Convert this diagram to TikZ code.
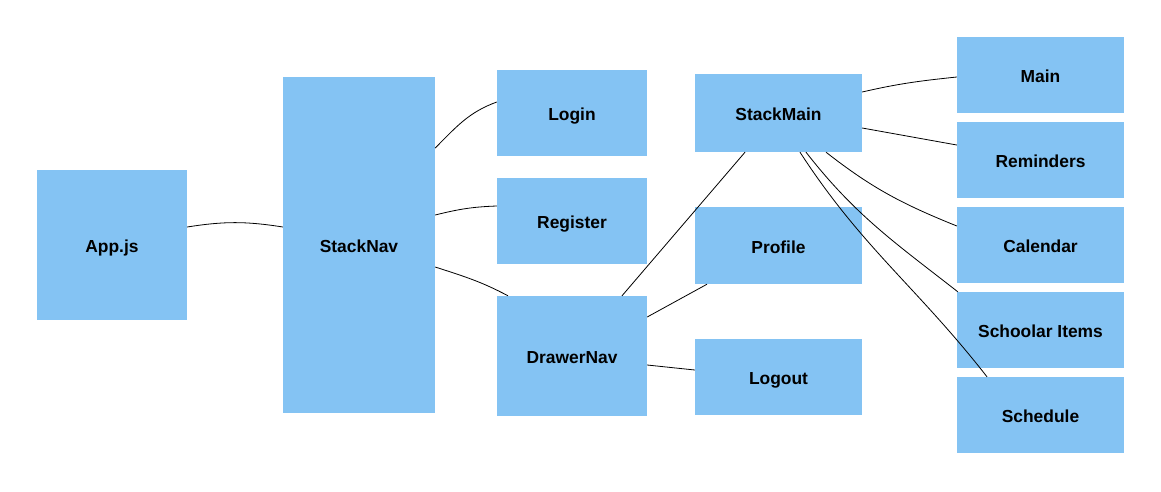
\documentclass[tikz,border=0pt]{standalone}
\usepackage{fontspec}
\setmainfont{Liberation Sans}
\definecolor{boxblue}{RGB}{132,195,243}
\begin{document}
\begin{tikzpicture}[x=1pt,y=-1pt,
  box/.style={fill=boxblue,draw=none,inner sep=0pt,text height=15pt,text depth=0pt,font=\fontsize{17.4}{20}\selectfont\bfseries},
  link/.style={draw=black,line width=0.8pt}]
\useasboundingbox (0,0) rectangle (1161,491);
\node[box,minimum width=150,minimum height=150] (app) at (112,245) {App.js};
\node[box,minimum width=152,minimum height=336] (stacknav) at (359,245) {StackNav};
\node[box,minimum width=150,minimum height=86] (login) at (572,113) {Login};
\node[box,minimum width=150,minimum height=86] (register) at (572,221) {Register};
\node[box,minimum width=150,minimum height=120] (drawer) at (572,356) {DrawerNav};
\node[box,minimum width=167,minimum height=78] (stackmain) at (778.5,113) {StackMain};
\node[box,minimum width=167,minimum height=77] (profile) at (778.5,245.5) {Profile};
\node[box,minimum width=167,minimum height=76] (logout) at (778.5,377) {Logout};
\node[box,minimum width=167,minimum height=76] (main) at (1040.5,75) {Main};
\node[box,minimum width=167,minimum height=76] (reminders) at (1040.5,160) {Reminders};
\node[box,minimum width=167,minimum height=76] (calendar) at (1040.5,245) {Calendar};
\node[box,minimum width=167,minimum height=76] (items) at (1040.5,330) {Schoolar Items};
\node[box,minimum width=167,minimum height=76] (schedule) at (1040.5,415) {Schedule};

\draw[link] ([yshift=18pt]app.east) to[bend left=9] ([yshift=18pt]stacknav.west);
\draw[link] ([yshift=97pt]stacknav.east) to[out=45,in=200] ([yshift=11pt]login.west);
\draw[link] ([yshift=30pt]stacknav.east) to[out=14,in=182] ([yshift=15pt]register.west);
\draw[link] ([yshift=-22pt]stacknav.east) to[out=-18,in=152] ([xshift=-64pt]drawer.north);
\draw[link] ([xshift=50pt]drawer.north) -- ([xshift=-33.5pt]stackmain.south);
\draw[link] ([yshift=39pt]drawer.east) -- ([xshift=-71.5pt]profile.south);
\draw[link] ([yshift=-9pt]drawer.east) -- ([yshift=7pt]logout.west);
\draw[link] ([yshift=21pt]stackmain.east) to[out=13,in=186] ([yshift=-2pt]main.west);
\draw[link] ([yshift=-15pt]stackmain.east) -- ([yshift=15pt]reminders.west);
\draw[link] ([xshift=47.5pt]stackmain.south) to[out=-38,in=158] ([yshift=19pt]calendar.west);
\draw[link] ([xshift=27.5pt]stackmain.south) to[out=-52,in=142] ([xshift=1pt]items.north west);
\draw[link] ([xshift=21.5pt]stackmain.south) to[out=-57,in=128] ([xshift=-53.5pt]schedule.north);
\end{tikzpicture}
\end{document}
